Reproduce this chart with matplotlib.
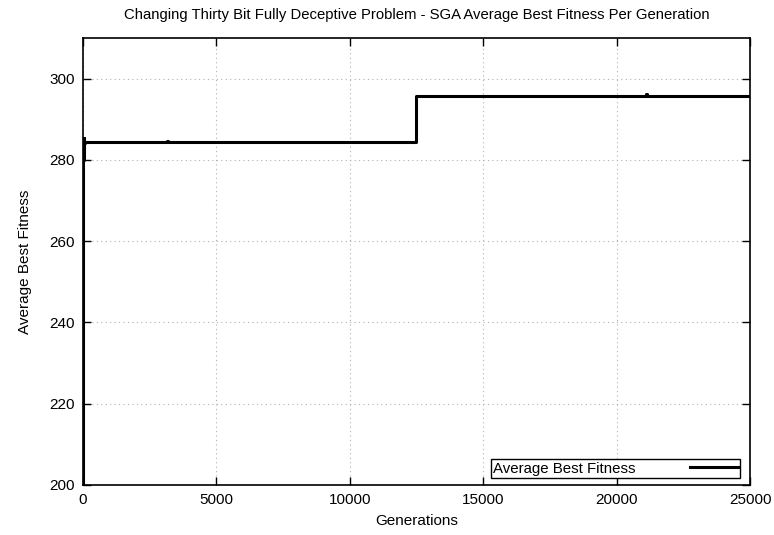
import matplotlib.pyplot as plt

plt.rcParams["font.family"] = ["Liberation Sans", "DejaVu Sans"]

# generations and average best fitness
generations = [0, 3, 8, 15, 25, 40, 60, 100, 1800, 3150, 3200, 12490, 12500, 21050, 21100, 21150, 25000]
avg_best = [200, 240, 265, 280, 285.3, 284.2, 284.3, 284.3, 284.4, 284.7, 284.5, 284.5, 295.8, 295.8, 296.2, 295.8, 295.8]

x_ticks = [0, 5000, 10000, 15000, 20000, 25000]
y_ticks = [200, 220, 240, 260, 280, 300]

fig = plt.figure(figsize=(7.74, 5.35), dpi=100)
ax = fig.add_axes([0.1072, 0.0935, 0.8618, 0.8355])

ax.plot(generations, avg_best, color="black", lw=2.2, drawstyle="steps-post",
        label="Average Best Fitness")

ax.set_xlim(0, 25000)
ax.set_ylim(200, 310)
ax.set_xticks(x_ticks)
ax.set_yticks(y_ticks)
ax.tick_params(direction="in", length=6, width=1, top=True, right=True,
               labelsize=11, pad=6)
ax.grid(True, color="#b0b0b0", linestyle=(0, (1, 3)), linewidth=0.8)
for s in ax.spines.values():
    s.set_linewidth(1.2)

ax.set_title("Changing Thirty Bit Fully Deceptive Problem - SGA Average Best Fitness Per Generation",
             fontsize=10.7, pad=14)
ax.set_xlabel("Generations", fontsize=11, labelpad=5)
ax.set_ylabel("Average Best Fitness", fontsize=11, labelpad=12)

leg = ax.legend(loc="lower right", bbox_to_anchor=(0.985, 0.016), markerfirst=False,
                fontsize=10.8, frameon=True, fancybox=False, framealpha=1,
                borderpad=0.15, handlelength=3.2, borderaxespad=0, handletextpad=3.6)
leg.get_frame().set_edgecolor("black")
leg.get_frame().set_linewidth(1.0)

fig.savefig("out.png", dpi=100)
